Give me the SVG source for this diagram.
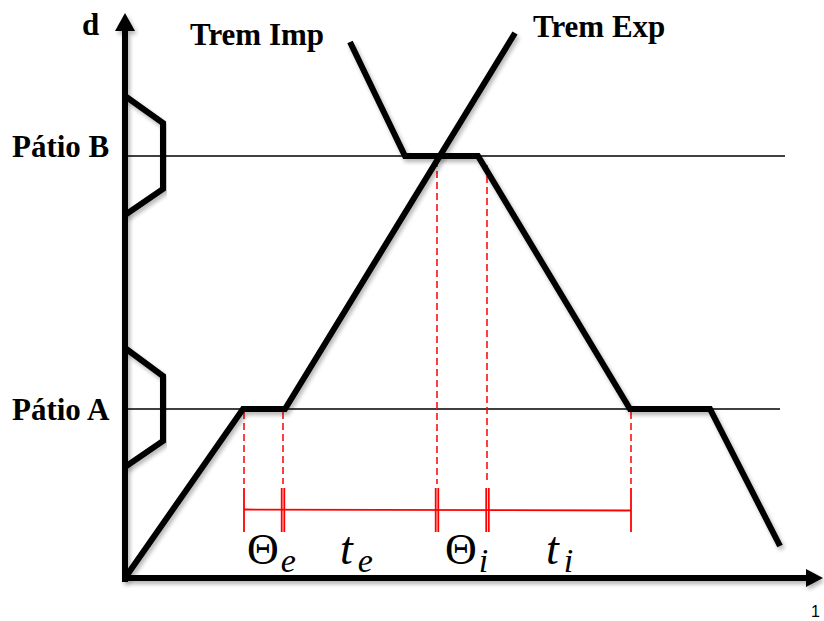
<svg xmlns="http://www.w3.org/2000/svg" width="824" height="621" viewBox="0 0 824 621">
<defs>
<style>
.lbl{font-family:'Liberation Serif','Times New Roman',Tinos,'DejaVu Serif',serif;font-weight:700;font-size:31px;fill:#000}
.math{font-family:'Liberation Serif','Times New Roman',Tinos,'DejaVu Serif',serif;fill:#000}
.thick{fill:none;stroke:#000;stroke-width:6;stroke-linejoin:miter}
.thin{stroke:#000;stroke-width:1.5}
.dash{stroke:#ff0000;stroke-width:1.5;stroke-dasharray:7 4}
.red{stroke:#ff0000;stroke-width:1.8}
</style>
<filter id="sh" x="-10%" y="-10%" width="120%" height="120%">
<feGaussianBlur in="SourceAlpha" stdDeviation="2"/>
<feOffset dx="2" dy="3" result="b"/>
<feComponentTransfer><feFuncA type="linear" slope="0.3"/></feComponentTransfer>
<feMerge><feMergeNode/><feMergeNode in="SourceGraphic"/></feMerge>
</filter>
</defs>
<rect width="824" height="621" fill="#fff"/>

<g id="axes" filter="url(#sh)">
<line x1="125" y1="582" x2="125" y2="30" stroke="#000" stroke-width="6"/>
<polygon points="125,13 115,31 135,31" fill="#000"/>
<line x1="122" y1="578" x2="808" y2="578" stroke="#000" stroke-width="6"/>
<polygon points="823,578 806,569 806,587" fill="#000"/>
</g>

<g id="patio-lines">
<line class="thin" x1="125" y1="156" x2="785" y2="156"/>
<line class="thin" x1="125" y1="409" x2="780" y2="409"/>
</g>

<g id="patio-b" filter="url(#sh)">
<polyline class="thick" points="125,96 163,123 163,189 125,215"/>
</g>
<g id="patio-a" filter="url(#sh)">
<polyline class="thick" points="125,348 163,376 163,441 125,467"/>
</g>

<g id="connectors">
<g id="dashes">
<line class="dash" x1="244" y1="412" x2="244" y2="484"/>
<line class="dash" x1="283" y1="412" x2="283" y2="484"/>
<line class="dash" x1="437" y1="160" x2="437" y2="484"/>
<line class="dash" x1="487" y1="165" x2="487" y2="484"/>
<line class="dash" x1="631" y1="412" x2="631" y2="484"/>
</g>
<g id="dimension">
<line class="red" x1="244" y1="509.5" x2="631" y2="510.5"/>
<line class="red" x1="244" y1="488" x2="244" y2="532"/>
<line class="red" x1="281.7" y1="488" x2="281.7" y2="532"/>
<line class="red" x1="284.3" y1="488" x2="284.3" y2="532"/>
<line class="red" x1="435.7" y1="488" x2="435.7" y2="532"/>
<line class="red" x1="438.3" y1="488" x2="438.3" y2="532"/>
<line class="red" x1="486.2" y1="488" x2="486.2" y2="532"/>
<line class="red" x1="488.8" y1="488" x2="488.8" y2="532"/>
<line class="red" x1="631" y1="488" x2="631" y2="532"/>
</g>
</g>

<g id="trem-exp" filter="url(#sh)">
<polyline class="thick" points="125,578 243,409 285,409 515,33"/>
</g>
<g id="trem-imp" filter="url(#sh)">
<polyline class="thick" points="350,42 405,156 478,156 630,409 710,409 780,546"/>
</g>

<g id="labels">
<text class="lbl" x="82" y="35">d</text>
<text class="lbl" x="190" y="45">Trem Imp</text>
<text class="lbl" x="533" y="37">Trem Exp</text>
<text class="lbl" x="12" y="157">Pátio B</text>
<text class="lbl" x="12" y="420">Pátio A</text>
<text class="math" x="247" y="564" font-size="44">Θ<tspan font-style="italic" font-size="34" dy="8" dx="2">e</tspan></text>
<text class="math" x="340" y="564" font-size="46" font-style="italic">t<tspan font-size="34" dy="8" dx="5">e</tspan></text>
<text class="math" x="445" y="564" font-size="44">Θ<tspan font-style="italic" font-size="34" dy="8" dx="2">i</tspan></text>
<text class="math" x="546" y="564" font-size="46" font-style="italic">t<tspan font-size="34" dy="8" dx="5">i</tspan></text>
<text x="811" y="617" font-family="'Liberation Sans', Arial, sans-serif" font-size="16" fill="#000">1</text>
</g>
</svg>
